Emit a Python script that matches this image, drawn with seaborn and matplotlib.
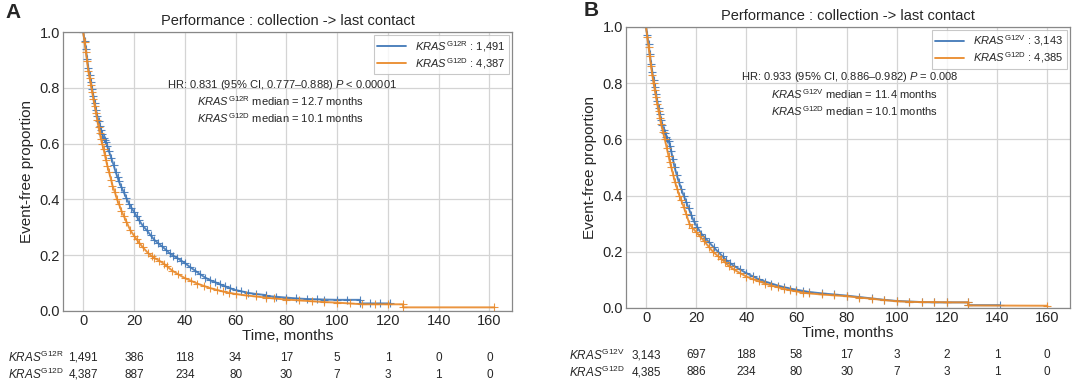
import numpy as np
import pandas as pd
import seaborn as sns
import matplotlib.pyplot as plt
from matplotlib.lines import Line2D

blue = "#4178b8"
orange = "#e98a2b"

# panel A: KRAS G12R vs G12D (steps in the tail as repeated times)
a_r_time = [0, 0.5, 1, 1.5, 2, 2.5, 3, 3.5, 4, 4.5, 5, 5.5, 6, 6.5, 7, 7.5, 8, 8.5, 9, 9.5, 10,
            11, 12, 12.7, 13.5, 14, 15, 16, 17, 18, 19, 20, 21, 22, 23.5, 25, 26.5, 28, 29.5, 31,
            32.5, 34, 35.5, 37, 38.5, 40, 42, 44, 46, 48, 50, 52, 54, 56, 58, 60, 62, 65, 68,
            72, 72, 76, 80, 84, 88, 92, 95, 100, 104, 109, 109, 113, 117, 121]
a_r_surv = [1.0, 0.97, 0.94, 0.905, 0.87, 0.845, 0.82, 0.795, 0.77, 0.745, 0.72, 0.7, 0.68,
            0.665, 0.65, 0.635, 0.62, 0.612, 0.605, 0.59, 0.575, 0.55, 0.522, 0.5, 0.48,
            0.465, 0.445, 0.425, 0.405, 0.385, 0.37, 0.355, 0.34, 0.325, 0.305, 0.29, 0.272,
            0.255, 0.243, 0.232, 0.22, 0.207, 0.198, 0.19, 0.181, 0.172, 0.158, 0.145, 0.132,
            0.12, 0.11, 0.103, 0.095, 0.088, 0.081, 0.075, 0.071, 0.065, 0.061, 0.057, 0.054,
            0.051, 0.048, 0.045, 0.043, 0.042, 0.041, 0.04, 0.04, 0.04, 0.027, 0.027, 0.027,
            0.027]
a_d_time = [0, 0.5, 1, 1.5, 2, 2.5, 3, 3.5, 4, 4.5, 5, 5.5, 6, 6.5, 7, 7.5, 8, 8.5, 9, 9.5,
            10.1, 11, 11.5, 12.5, 13.3, 14, 15, 16, 17, 18.5, 20, 21, 22, 23.5, 25.6, 27, 28,
            30, 31.7, 33, 35, 37.5, 40, 42.5, 45, 47.5, 50, 52.5, 55, 57.5, 60, 64, 68, 72, 75,
            80, 85, 90, 95, 100, 105, 110, 115, 120, 126, 126, 162]
a_d_surv = [1.0, 0.965, 0.93, 0.895, 0.86, 0.835, 0.81, 0.785, 0.76, 0.735, 0.71, 0.685,
            0.66, 0.637, 0.615, 0.598, 0.58, 0.56, 0.54, 0.52, 0.5, 0.47, 0.45, 0.425, 0.4,
            0.385, 0.36, 0.34, 0.32, 0.29, 0.27, 0.257, 0.245, 0.228, 0.207, 0.197, 0.19,
            0.18, 0.17, 0.16, 0.145, 0.131, 0.118, 0.108, 0.098, 0.09, 0.082, 0.076, 0.07,
            0.065, 0.061, 0.056, 0.052, 0.048, 0.045, 0.041, 0.038, 0.035, 0.032, 0.03, 0.027,
            0.024, 0.024, 0.024, 0.024, 0.013, 0.013]

# panel B: KRAS G12V vs G12D
b_v_time = [0, 0.5, 1, 1.5, 2, 2.5, 3, 3.5, 4, 4.5, 5, 5.5, 6, 6.5, 7, 7.5, 8, 8.5, 9, 9.5,
            10, 10.7, 11.4, 12.2, 13, 14, 15, 16, 17, 18, 19, 20.5, 22, 23.5, 25, 27, 28.7,
            30.5, 32, 33.5, 35, 37.5, 40, 42.5, 45, 47.5, 50, 52.5, 55, 57.5, 60, 62.5, 65, 70,
            75, 80, 85, 90, 95, 100, 105, 110, 115, 120, 128.5, 128.5, 141]
b_v_surv = [1.0, 0.97, 0.94, 0.905, 0.87, 0.84, 0.81, 0.785, 0.76, 0.735, 0.71, 0.69, 0.67,
            0.652, 0.635, 0.622, 0.61, 0.602, 0.595, 0.578, 0.56, 0.53, 0.5, 0.475, 0.45,
            0.425, 0.4, 0.378, 0.355, 0.332, 0.31, 0.287, 0.265, 0.25, 0.235, 0.216, 0.2,
            0.184, 0.17, 0.16, 0.15, 0.137, 0.124, 0.113, 0.102, 0.094, 0.087, 0.08, 0.074,
            0.069, 0.065, 0.061, 0.057, 0.052, 0.048, 0.044, 0.039, 0.034, 0.029, 0.025,
            0.023, 0.021, 0.02, 0.02, 0.02, 0.01, 0.01]
b_d_time = [0, 0.5, 1, 1.5, 2, 2.5, 3, 3.5, 4, 4.5, 5, 5.5, 6, 6.75, 7.5, 8.25, 9, 9.5, 10.1,
            10.8, 11.5, 12.4, 13.3, 14, 15, 16, 17.3, 18.5, 20, 21.5, 23, 25, 26.7, 28.5, 30,
            31.5, 33, 35, 37.5, 40, 42.5, 45, 47.5, 50, 52.5, 55, 57.5, 60, 62.5, 65, 70, 75,
            80, 85, 90, 95, 100, 105, 110, 115, 120, 128.5, 128.5, 160]
b_d_surv = [1.0, 0.965, 0.93, 0.895, 0.86, 0.83, 0.8, 0.775, 0.75, 0.725, 0.7, 0.677, 0.655,
            0.627, 0.6, 0.57, 0.54, 0.52, 0.5, 0.475, 0.45, 0.425, 0.4, 0.385, 0.36, 0.335,
            0.3, 0.285, 0.27, 0.255, 0.24, 0.218, 0.2, 0.186, 0.175, 0.162, 0.15, 0.137,
            0.124, 0.112, 0.103, 0.095, 0.087, 0.08, 0.074, 0.068, 0.063, 0.059, 0.055, 0.052,
            0.048, 0.045, 0.042, 0.037, 0.033, 0.028, 0.024, 0.022, 0.021, 0.021, 0.02, 0.02,
            0.009, 0.008]

risk_times = [0, 20, 40, 60, 80, 100, 120, 140, 160]
a_risk_r = ["1,491", "386", "118", "34", "17", "5", "1", "0", "0"]
a_risk_d = ["4,387", "887", "234", "80", "30", "7", "3", "1", "0"]
b_risk_v = ["3,143", "697", "188", "58", "17", "3", "2", "1", "0"]
b_risk_d = ["4,385", "886", "234", "80", "30", "7", "3", "1", "0"]

sns.set_theme(style="whitegrid")
plt.rcParams['font.family'] = ['Liberation Sans', 'DejaVu Sans']
plt.rcParams['mathtext.fontset'] = 'custom'
plt.rcParams['mathtext.rm'] = 'Liberation Sans'
plt.rcParams['mathtext.it'] = 'Liberation Sans:italic'

fig = plt.figure(figsize=(10.8, 3.9), dpi=100)
ax_a = fig.add_axes([0.0583, 0.2026, 0.416, 0.715])
ax_b = fig.add_axes([0.5796, 0.2103, 0.411, 0.7205])


def kras(mut):
    return r"$\mathit{KRAS}^{\mathrm{" + mut + "}}$"


def curve(ax, t, s, color):
    df = pd.DataFrame({"time": t, "surv": s})
    sns.lineplot(data=df, x="time", y="surv", color=color, estimator=None, sort=False,
                 marker="+", markersize=5.5, markeredgewidth=0.8, markeredgecolor=color,
                 linewidth=1.4, alpha=0.9, ax=ax)


def draw_panel(ax, t1, s1, t2, s2, m1, n1, n2, hr, med1, med2, risk1, risk2,
               txt_x, txt_y, rowlab_x):
    curve(ax, t1, s1, blue)
    curve(ax, t2, s2, orange)
    ax.set_xlim(-8, 169)
    ax.set_ylim(0, 1)
    ax.set_xticks(risk_times)
    ax.set_yticks([0, 0.2, 0.4, 0.6, 0.8, 1.0])
    ax.set_yticklabels(["0.0", "0.2", "0.4", "0.6", "0.8", "1.0"])
    ax.tick_params(labelsize=10.5, pad=2, length=0)
    ax.grid(color="#d4d4d4", linewidth=0.9)
    for sp in ax.spines.values():
        sp.set_color("#888888")
        sp.set_linewidth(0.9)
    ax.set_xlabel("Time, months", fontsize=11, labelpad=1)
    ax.set_ylabel("Event-free proportion", fontsize=11, labelpad=4)
    ax.set_title("Performance : collection -> last contact", fontsize=10.5, pad=5)

    handles = [Line2D([], [], color=blue, lw=1.3), Line2D([], [], color=orange, lw=1.3)]
    leg = ax.legend(handles, [kras(m1) + " : " + n1, kras("G12D") + " : " + n2],
                    loc="upper right", fontsize=8, frameon=True, fancybox=False,
                    borderaxespad=0.3, handlelength=2.6, labelspacing=0.2,
                    borderpad=0.3)
    leg.get_frame().set_edgecolor("#bbbbbb")
    leg.get_frame().set_linewidth(0.8)

    ax.text(txt_x - 12, txt_y, hr, fontsize=8)
    ax.text(txt_x, txt_y - 0.065, kras(m1) + " median = " + med1 + " months", fontsize=8)
    ax.text(txt_x, txt_y - 0.125, kras("G12D") + " median = " + med2 + " months", fontsize=8)

    tr = ax.get_xaxis_transform()
    for t, r1, r2 in zip(risk_times, risk1, risk2):
        ax.text(t, -0.168, r1, ha="center", va="center", fontsize=8.5, transform=tr)
        ax.text(t, -0.229, r2, ha="center", va="center", fontsize=8.5, transform=tr)
    pos = ax.get_position()
    fig.text(rowlab_x, pos.y0 - 0.168 * pos.height, kras(m1), fontsize=8.5, va="center")
    fig.text(rowlab_x, pos.y0 - 0.229 * pos.height, kras("G12D"), fontsize=8.5, va="center")


draw_panel(ax_a, a_r_time, a_r_surv, a_d_time, a_d_surv, "G12R", "1,491", "4,387",
           r"HR: 0.831 (95% CI, 0.777–0.888) $\mathit{P}$ < 0.00001", "12.7", "10.1",
           a_risk_r, a_risk_d, 45, 0.8, 0.007)
draw_panel(ax_b, b_v_time, b_v_surv, b_d_time, b_d_surv, "G12V", "3,143", "4,385",
           r"HR: 0.933 (95% CI, 0.886–0.982) $\mathit{P}$ = 0.008", "11.4", "10.1",
           b_risk_v, b_risk_d, 50, 0.81, 0.527)

fig.text(0.005, 0.955, "A", fontsize=15, fontweight="bold")
fig.text(0.54, 0.96, "B", fontsize=15, fontweight="bold")

fig.savefig("out.png", dpi=100)
